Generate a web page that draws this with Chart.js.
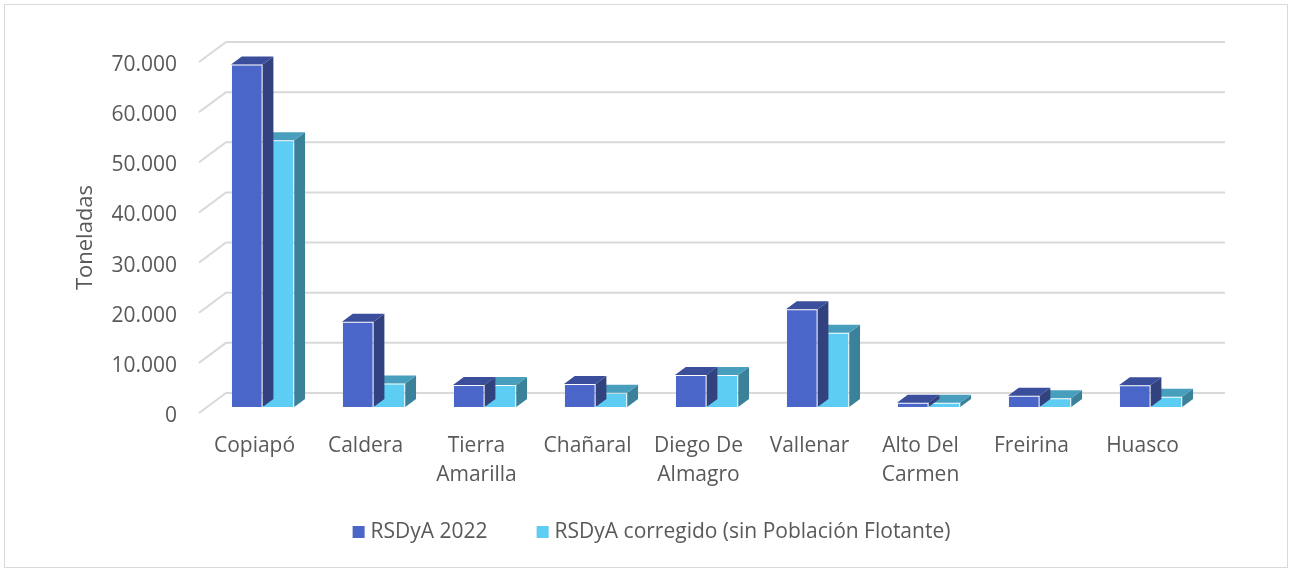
<!DOCTYPE html>
<html>
<head>
<meta charset="utf-8">
<script src="https://cdn.jsdelivr.net/npm/chart.js@4.4.1/dist/chart.umd.min.js"></script>
<style>
html,body{margin:0;padding:0;background:#fff;}
#wrap{position:relative;width:1289px;height:570px;}
</style>
</head>
<body>
<div id="wrap"><canvas id="chart" width="1289" height="570"></canvas></div>
<script>
// data (toneladas)
const comunas = [['Copiapó'], ['Caldera'], ['Tierra', 'Amarilla'], ['Chañaral'], ['Diego De', 'Almagro'],
  ['Vallenar'], ['Alto Del', 'Carmen'], ['Freirina'], ['Huasco']];
const rsdya2022 = [68300, 17000, 4400, 4600, 6400, 19500, 850, 2250, 4350];
const rsdyaCorregido = [53200, 4700, 4400, 2850, 6400, 14800, 850, 1750, 2050];
const seriesNames = ['RSDyA 2022', 'RSDyA corregido (sin Población Flotante)'];
const yTicks = [0, 10000, 20000, 30000, 40000, 50000, 60000, 70000];

// 3d look: front face / top / side
const faces = [
  { front: '#4A66C8', top: '#3A4E9B', side: '#32427E' },
  { front: '#5DCDF3', top: '#479FBD', side: '#3A8199' }
];
const DEPTH_X = 27, DEPTH_Y = 20;   // floor depth
const GAP = 0.3, BAR_DEPTH = 0.4;   // where bars sit in the depth

const fmt = v => String(v).replace(/\B(?=(\d{3})+(?!\d))/g, '.');

Chart.defaults.font.family = '"Open Sans", sans-serif';
Chart.defaults.color = '#595959';

const box3d = {
  id: 'box3d',
  beforeDatasetsDraw(chart) {
    const { ctx, chartArea: a, scales: { y } } = chart;
    ctx.save();
    ctx.strokeStyle = '#d9d9d9';
    ctx.lineWidth = 2;
    yTicks.forEach(v => {
      const py = y.getPixelForValue(v);
      ctx.beginPath();
      ctx.moveTo(a.left, py);
      ctx.lineTo(a.left + DEPTH_X, py - DEPTH_Y);
      ctx.lineTo(a.right + DEPTH_X, py - DEPTH_Y);
      ctx.stroke();
    });
    ctx.restore();
    // bars sit a bit behind the front plane
    ctx.save();
    ctx.translate(DEPTH_X * GAP, -DEPTH_Y * GAP);
  },
  beforeDatasetDraw(chart, args) {
    const ctx = chart.ctx;
    const c = faces[args.index];
    const dx = DEPTH_X * BAR_DEPTH, dy = DEPTH_Y * BAR_DEPTH;
    args.meta.data.forEach(bar => {
      const { x, y, base, width } = bar.getProps(['x', 'y', 'base', 'width'], true);
      const l = x - width / 2, r = x + width / 2;
      ctx.fillStyle = c.side;
      ctx.beginPath();
      ctx.moveTo(r, y); ctx.lineTo(r + dx, y - dy); ctx.lineTo(r + dx, base - dy); ctx.lineTo(r, base);
      ctx.closePath(); ctx.fill();
      ctx.fillStyle = c.top;
      ctx.beginPath();
      ctx.moveTo(l, y); ctx.lineTo(l + dx, y - dy); ctx.lineTo(r + dx, y - dy); ctx.lineTo(r, y);
      ctx.closePath(); ctx.fill();
    });
  },
  afterDatasetsDraw(chart) {
    chart.ctx.restore();
  },
  afterDraw(chart) {
    const ctx = chart.ctx;
    ctx.save();
    // frame
    ctx.strokeStyle = '#d9d9d9';
    ctx.lineWidth = 1;
    ctx.strokeRect(4.5, 4.5, 1283, 563);
    // legend
    ctx.font = '21px "Open Sans", sans-serif';
    ctx.textBaseline = 'middle';
    const boxS = 12, gapT = 6, gapI = 49, ly = 532;
    const items = chart.data.datasets.map(d => ({ label: d.label, color: d.backgroundColor, w: ctx.measureText(d.label).width }));
    const total = items.reduce((s, it) => s + boxS + gapT + it.w, 0) + gapI * (items.length - 1);
    let x = 651.5 - total / 2;
    items.forEach(it => {
      ctx.fillStyle = it.color;
      ctx.fillRect(x, ly - boxS / 2, boxS, boxS);
      ctx.fillStyle = '#595959';
      ctx.fillText(it.label, x + boxS + gapT, ly);
      x += boxS + gapT + it.w + gapI;
    });
    ctx.restore();
  }
};

new Chart(document.getElementById('chart'), {
  type: 'bar',
  data: {
    labels: comunas,
    datasets: [
      { label: seriesNames[0], data: rsdya2022, backgroundColor: faces[0].front,
        borderColor: 'rgba(255,255,255,0.18)', borderWidth: 1, clip: false },
      { label: seriesNames[1], data: rsdyaCorregido, backgroundColor: faces[1].front,
        borderColor: 'rgba(255,255,255,0.18)', borderWidth: 1, clip: false }
    ]
  },
  options: {
    responsive: false,
    animation: false,
    layout: { padding: { top: 62, right: 91, left: 0, bottom: 0 } },
    datasets: { bar: { categoryPercentage: 0.57, barPercentage: 1 } },
    plugins: { legend: { display: false }, tooltip: { enabled: false } },
    scales: {
      x: {
        grid: { display: false, drawTicks: false },
        border: { display: false },
        ticks: { autoSkip: false, maxRotation: 0, padding: 19, font: { size: 21, lineHeight: 1.35 } },
        afterFit(scale) { scale.height = 157; }
      },
      y: {
        min: 0, max: 70000,
        grid: { display: false, drawTicks: false },
        border: { display: false },
        ticks: { stepSize: 10000, padding: 22, labelOffset: 3, font: { size: 21 }, callback: v => fmt(v) },
        title: { display: true, text: 'Toneladas', font: { size: 22 }, padding: { top: 73, bottom: 0 } },
        afterFit(scale) { scale.width = 199; }
      }
    }
  },
  plugins: [box3d]
});
</script>
</body>
</html>
